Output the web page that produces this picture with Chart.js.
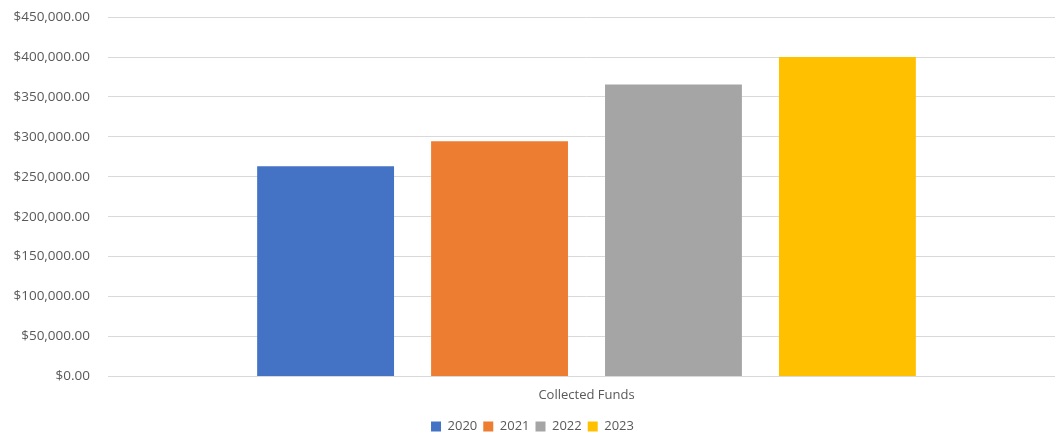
<!DOCTYPE html>
<html>
<head>
<meta charset="utf-8">
<script src="https://cdn.jsdelivr.net/npm/chart.js@4/dist/chart.umd.min.js"></script>
<style>
    html, body { margin: 0; padding: 0; background: #fff; overflow: hidden; }
    #wrap { width: 1065px; height: 444px; margin-top: -9px; }
</style>
</head>
<body>
<div id="wrap"><canvas id="fundsChart" width="1065" height="444"></canvas></div>
<script>
// Datos del grafico
var categories = ["Collected Funds"];
var years = ["2020", "2021", "2022", "2023"];
var funds2020 = [263300];
var funds2021 = [294400];
var funds2022 = [365500];
var funds2023 = [400000];
var yearColors = ["#4472C4", "#ED7D31", "#A5A5A5", "#FFC000"];

var seriesValues = [funds2020, funds2021, funds2022, funds2023];

var textColor = "#595959";
var fontFamily = "'Open Sans', 'Liberation Sans', sans-serif";

function money(v) {
    return "$" + Number(v).toLocaleString("en-US", { minimumFractionDigits: 2, maximumFractionDigits: 2 });
}

var datasets = years.map(function (year, i) {
    return {
        label: year,
        data: seriesValues[i],
        backgroundColor: yearColors[i],
        borderWidth: 0,
        categoryPercentage: 0.727,
        barPercentage: 0.787
    };
});

new Chart(document.getElementById("fundsChart").getContext("2d"), {
    type: "bar",
    data: { labels: categories, datasets: datasets },
    options: {
        responsive: false,
        animation: false,
        layout: { padding: { top: 0, right: 0, bottom: -8, left: 0 } },
        plugins: {
            tooltip: { enabled: false },
            legend: {
                position: "bottom",
                labels: {
                    color: textColor,
                    font: { family: fontFamily, size: 13 },
                    boxWidth: 10,
                    boxHeight: 10,
                    padding: 6
                }
            }
        },
        scales: {
            x: {
                grid: { display: false, drawTicks: false },
                border: { display: true, color: "#D9D9D9", width: 1 },
                ticks: {
                    color: textColor,
                    font: { family: fontFamily, size: 13 },
                    padding: 11
                }
            },
            y: {
                min: 0,
                max: 450000,
                afterFit: function (scale) { scale.width = 108; },
                grid: { color: "#D9D9D9", drawTicks: false },
                border: { display: false },
                ticks: {
                    stepSize: 50000,
                    color: textColor,
                    font: { family: fontFamily, size: 13.5 },
                    padding: 18,
                    callback: function (v) { return money(v); }
                }
            }
        }
    }
});
</script>
</body>
</html>
